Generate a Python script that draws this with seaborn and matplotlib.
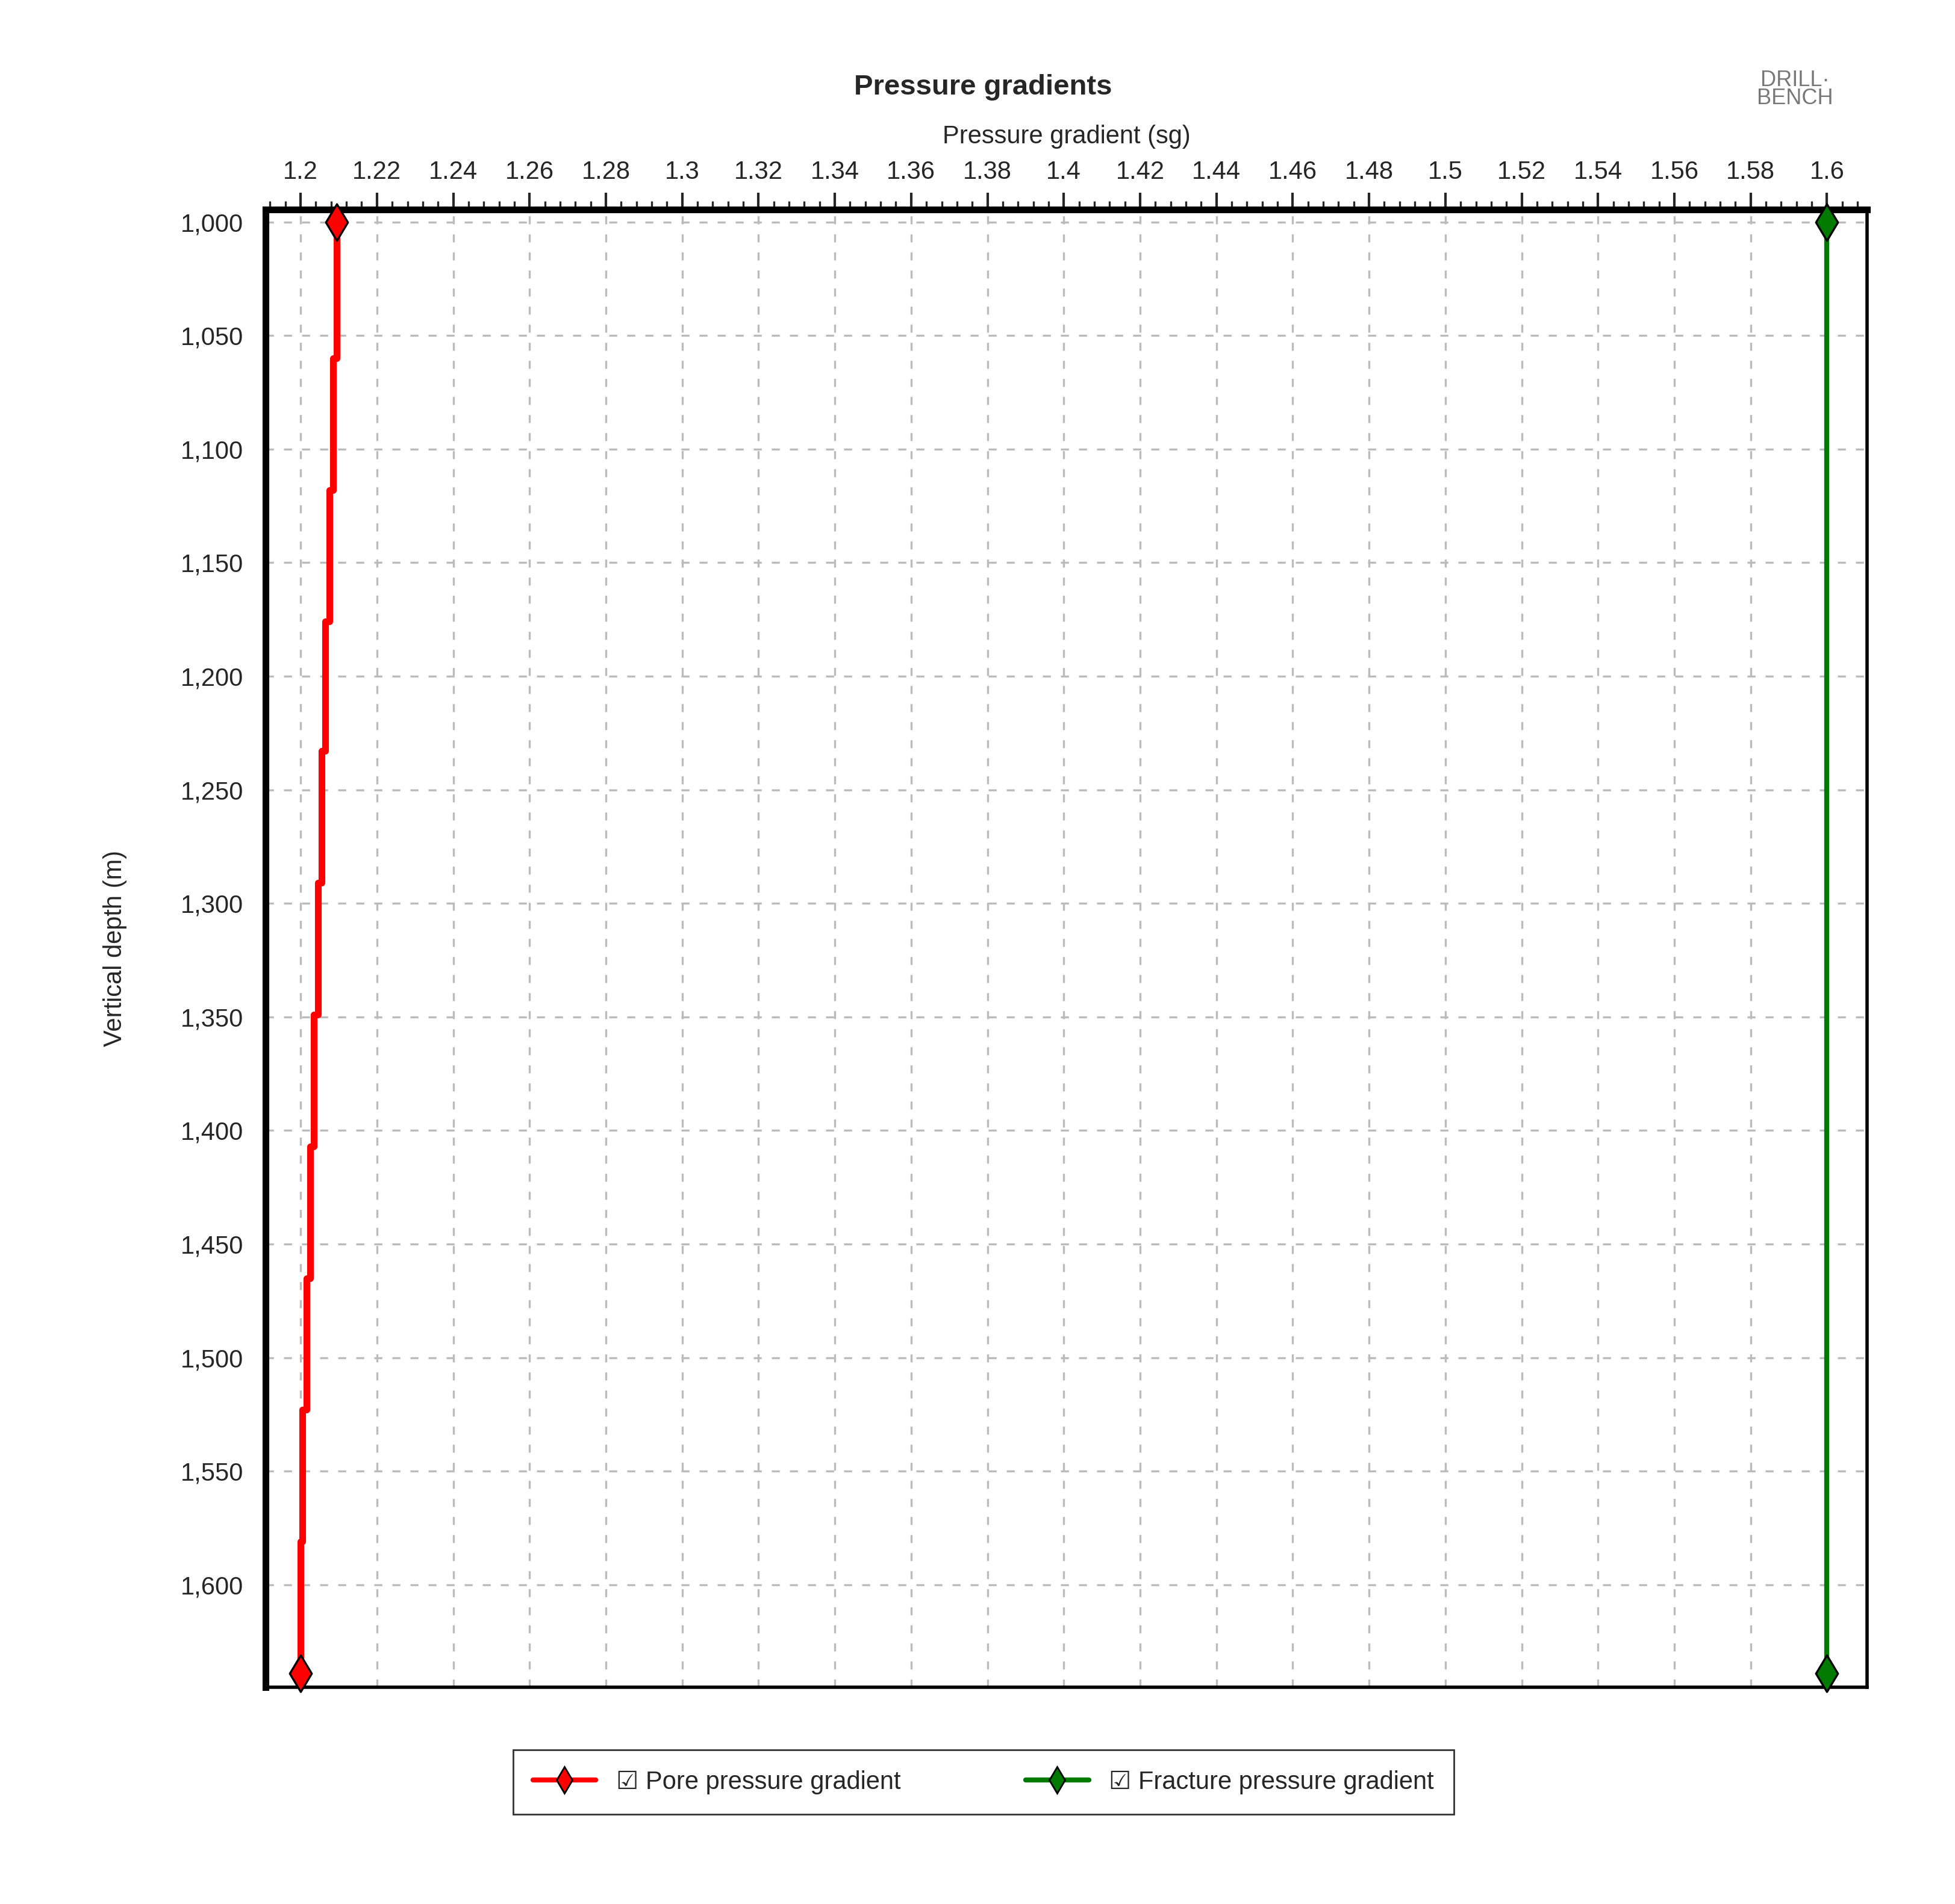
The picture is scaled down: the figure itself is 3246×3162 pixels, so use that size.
import matplotlib
matplotlib.use("Agg")
import matplotlib.pyplot as plt
from matplotlib.ticker import MultipleLocator, FuncFormatter
from matplotlib.lines import Line2D
import seaborn as sns
import pandas as pd

# step boundaries of the pore pressure profile (m) and the gradient in each step (sg)
pore_depth_edges = [1000, 1060, 1118, 1176, 1233, 1291, 1349, 1407, 1465, 1523, 1581, 1639]
pore_values = [1.2095, 1.2085, 1.2075, 1.2065, 1.2055, 1.2045, 1.2035, 1.2025, 1.2015, 1.2005, 1.2000]
frac_depth = [1000, 1639]
frac_values = [1.6, 1.6]

sns.set_style("white")
plt.rcParams["font.family"] = ["Liberation Sans", "DejaVu Sans"]

# build the staircase as a table
rows = []
for i, v in enumerate(pore_values):
    rows.append((v, pore_depth_edges[i]))
    rows.append((v, pore_depth_edges[i + 1]))
pore = pd.DataFrame(rows, columns=["grad", "depth"])
frac = pd.DataFrame({"grad": frac_values, "depth": frac_depth})

fig = plt.figure(figsize=(16.23, 15.81), dpi=200)
ax = fig.add_axes([0.136, 0.114, 0.819, 0.776])

sns.lineplot(data=pore, x="grad", y="depth", sort=False, estimator=None,
             color="#ff0000", lw=4, ax=ax)
sns.lineplot(data=frac, x="grad", y="depth", sort=False, estimator=None,
             color="#007a00", lw=3, ax=ax)
ax.scatter([pore_values[0], pore_values[-1]], [pore_depth_edges[0], pore_depth_edges[-1]],
           marker="d", s=240, color="#ff0000", edgecolor="black", lw=1.2, zorder=5, clip_on=False)
ax.scatter(frac_values, frac_depth, marker="d", s=240, color="#007a00",
           edgecolor="black", lw=1.2, zorder=5, clip_on=False)

ax.set_xlim(1.1909, 1.6105)
ax.set_ylim(1645, 994.5)
ax.xaxis.set_major_locator(MultipleLocator(0.02))
ax.xaxis.set_minor_locator(MultipleLocator(0.004))
ax.xaxis.set_major_formatter(FuncFormatter(lambda v, p: f"{v:.2f}".rstrip("0").rstrip(".")))
ax.yaxis.set_major_locator(MultipleLocator(50))
ax.yaxis.set_minor_locator(MultipleLocator(10))
ax.yaxis.set_major_formatter(FuncFormatter(lambda v, p: f"{int(v):,}"))
ax.xaxis.tick_top()
ax.xaxis.set_label_position("top")
ax.tick_params(axis="both", which="major", length=10, width=1.5, labelsize=15, direction="out")
ax.tick_params(axis="both", which="minor", length=5, width=1.2, direction="out")
ax.tick_params(axis="x", pad=5)
ax.grid(True, which="major", ls=(0, (4, 5)), color="#bbbbbb", lw=1.2)
for s in ax.spines.values():
    s.set_linewidth(2)
    s.set_color("black")
ax.spines["top"].set_linewidth(4)
ax.spines["left"].set_linewidth(4)

ax.set_xlabel("Pressure gradient (sg)", fontsize=15, labelpad=10)
ax.set_ylabel("Vertical depth (m)", fontsize=15, labelpad=32)
fig.text(0.503, 0.954, "Pressure gradients", ha="center", va="center",
         fontsize=17, fontweight="bold")
fig.text(0.918, 0.953, "DRILL\u00b7\nBENCH", ha="center", va="center", fontsize=13,
         color="#777777", linespacing=0.8)

handles = [Line2D([], [], color="#ff0000", lw=3, marker="d", markersize=11,
                  markeredgecolor="black"),
           Line2D([], [], color="#007a00", lw=3, marker="d", markersize=11,
                  markeredgecolor="black")]
fig.legend(handles, ["\u2611 Pore pressure gradient", "\u2611 Fracture pressure gradient"],
           loc="center", bbox_to_anchor=(0.503, 0.064), ncol=2, fontsize=15,
           frameon=True, fancybox=False, edgecolor="black", borderpad=0.8,
           columnspacing=5, handlelength=2.5)

fig.savefig("out.png", dpi=200, facecolor="white")
